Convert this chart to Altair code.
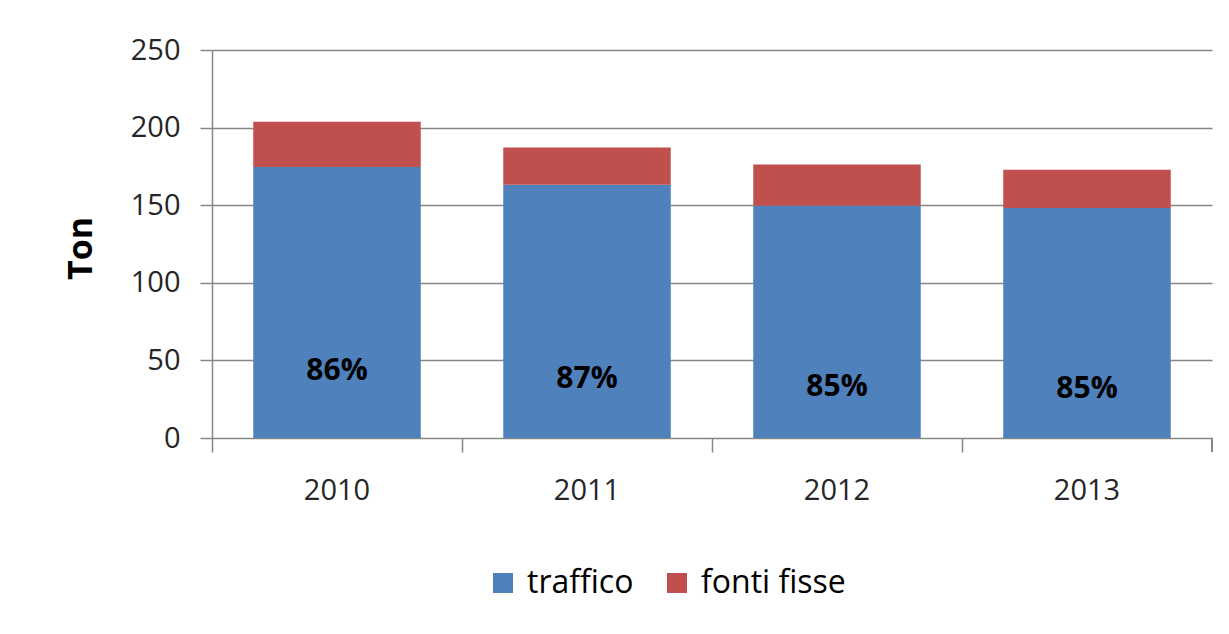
import altair as alt
import pandas as pd

years = ["2010", "2011", "2012", "2013"]
traffico = [174.6, 163.2, 149.7, 148.2]
fonti_fisse = [29.2, 24.0, 26.6, 24.7]
pct_labels = ["86%", "87%", "85%", "85%"]
label_y = [43.0, 38.0, 33.0, 31.5]
series = ["traffico", "fonti fisse"]
colors = ["#4F81BD", "#C0504D"]

rows = []
for i, y in enumerate(years):
    rows.append({"anno": y, "serie": "traffico", "valore": traffico[i], "ord": 0})
    rows.append({"anno": y, "serie": "fonti fisse", "valore": fonti_fisse[i], "ord": 1})
df = pd.DataFrame(rows)
lab = pd.DataFrame({"anno": years, "pct": pct_labels, "ly": label_y})

FONT = "Open Sans"
GRID = "#868686"
XSCALE = alt.Scale(domain=years, paddingInner=0, paddingOuter=0)

xenc = alt.X("anno:N", scale=XSCALE,
             axis=alt.Axis(title=None, bandPosition=0, labelAngle=0, labelFont=FONT,
                           labelFontSize=29, labelColor="#262626", labelPadding=24,
                           domain=False, ticks=True, tickSize=14, tickColor=GRID,
                           tickWidth=1.5, grid=False, labelBound=False))

bars = alt.Chart(df).mark_bar(stroke=None, width=alt.RelativeBandSize(0.67)).encode(
    x=xenc,
    y=alt.Y("valore:Q", stack="zero",
            scale=alt.Scale(domain=[0, 250], nice=False),
            axis=alt.Axis(values=[0, 50, 100, 150, 200, 250], title="Ton",
                          titleFont=FONT, titleFontSize=34, titleFontWeight="bold",
                          titleColor="#000000", titleX=-131, titleY=198,
                          titleBaseline="middle", titleAlign="center",
                          labelFont=FONT, labelFontSize=29, labelColor="#262626",
                          labelPadding=20, tickSize=12, tickColor=GRID, tickWidth=1.5,
                          domainColor=GRID, domainWidth=1.5, grid=True,
                          gridColor=GRID, gridWidth=1.5)),
    color=alt.Color("serie:N", scale=alt.Scale(domain=series, range=colors),
                    legend=alt.Legend(title=None, orient="none", direction="horizontal",
                                      legendX=275, legendY=517, symbolType="square",
                                      symbolSize=400, symbolStrokeWidth=0,
                                      labelFont=FONT, labelFontSize=32,
                                      labelColor="#000000", labelOffset=8,
                                      columnPadding=27, labelLimit=400)),
    order=alt.Order("ord:Q"),
)

texts = alt.Chart(lab).mark_text(font=FONT, fontSize=30, fontWeight="bold",
                                 color="#000000", baseline="middle").encode(
    x=alt.X("anno:N", scale=XSCALE),
    y=alt.Y("ly:Q"),
    text="pct:N",
)

last_tick = alt.Chart(lab).mark_rule(color=GRID, strokeWidth=1.5).encode(
    x=alt.value(1000), y=alt.value(388), y2=alt.value(402)
)

chart = alt.layer(bars, texts, last_tick).properties(
    width=1000, height=388,
    autosize=alt.AutoSizeParams(type="none"),
    padding={"left": 204, "top": 42, "right": 9, "bottom": 180},
    background="white",
).configure_view(stroke=None)

chart.save("out.html", embed_options={"renderer": "svg", "actions": False})
